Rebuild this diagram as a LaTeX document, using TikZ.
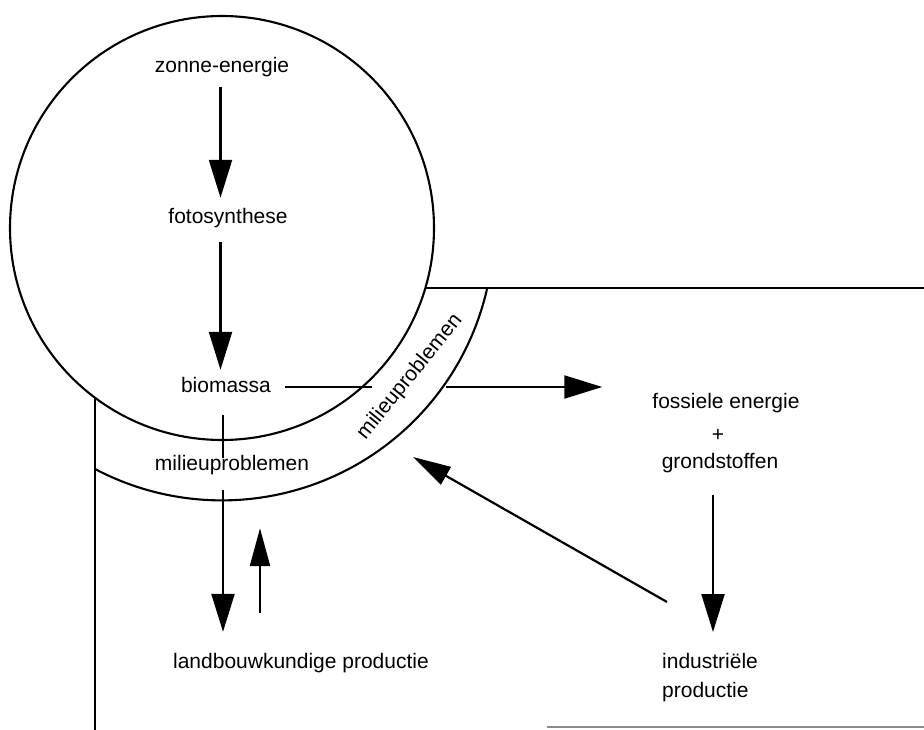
\documentclass[tikz,border=0pt]{standalone}
\usepackage{fontspec}
\setmainfont{Liberation Sans}
\usetikzlibrary{arrows.meta,calc}
\begin{document}
\begin{tikzpicture}[x=1pt,y=-1pt,
  lbl/.style={inner sep=0pt,font=\fontsize{21pt}{29pt}\selectfont,text height=15pt,text depth=4pt},
  outline/.style={line width=2.1pt},
  shaft/.style={line width=2.2pt},
  arr/.style={line width=2.2pt,-{Triangle[length=38pt,width=23pt]}},
  arrs/.style={line width=2.2pt,-{Triangle[length=38pt,width=20pt]}}]
\useasboundingbox (0,0) rectangle (924,730);
\fill[white] (0,0) rectangle (924,730);
% geometry
\coordinate (O) at (222,228);
\draw[outline] (O) circle[radius=212];
\draw[outline] (95,469) arc[start angle=117.8,end angle=12.8,radius=272];
\draw[outline] (95,397.7) -- (95,730);
\draw[outline] (425.3,288) -- (924,288);
\draw[line width=1.5pt,black!45] (547,727) -- (924,727);
% column helpers
\coordinate (colA) at (220.5,0);
\coordinate (colB) at (223,0);
\coordinate (colC) at (260,0);
\coordinate (colD) at (713,0);
% labels
\node[lbl] (zonne) at (222,67) {zonne-energie};
\node[lbl] (foto) at (228,218) {fotosynthese};
\node[lbl] (bio) at (226,387) {biomassa};
\node[lbl] (mp1) at (232,465) {milieuproblemen};
\node[inner sep=0pt,font=\fontsize{21pt}{29pt}\selectfont,rotate=51] (mp2) at (410,377) {milieuproblemen};
\node[lbl] (landbouw) at (301,663) {landbouwkundige productie};
\node[lbl] (fossiel) at (726,403) {fossiele energie};
\node[lbl] (plus) at (718,436) {+};
\node[lbl] (grond) at (720,463) {grondstoffen};
\node[inner sep=0pt,font=\fontsize{21pt}{29pt}\selectfont,align=left,anchor=north west] (indus) at (662,653) {industriële\\productie};
\coordinate (b1) at (372,387);
\coordinate (b2) at (446,387);
\coordinate (tipD) at (413,457);
% connectors
\draw[arr,shorten <=10pt,shorten >=10.5pt] (zonne.south -| colA) -- (foto.north -| colA);
\draw[arr,shorten <=14.5pt,shorten >=7.5pt] (foto.south -| colA) -- (bio.north -| colA);
\draw[shaft,shorten <=14pt] (bio.east) -- (b1);
\draw[arr,shorten >=50pt] (b2) -- (b2 -| fossiel.west);
\draw[shaft,shorten <=18.5pt,shorten >=-3pt] (bio.south -| colB) -- (mp1.north -| colB);
\draw[arr,shorten <=15.5pt,shorten >=21.5pt] (mp1.south -| colB) -- (landbouw.north -| colB);
\draw[arrs,shorten <=40.5pt,shorten >=53.5pt] (landbouw.north -| colC) -- (mp1.south -| colC);
\draw[arr,shorten <=22.5pt,shorten >=21pt] (grond.south -| colD) -- (indus.north -| colD);
\draw[arrs] ([shift={(5,-51)}]indus.north west) -- (tipD);
\end{tikzpicture}
\end{document}
